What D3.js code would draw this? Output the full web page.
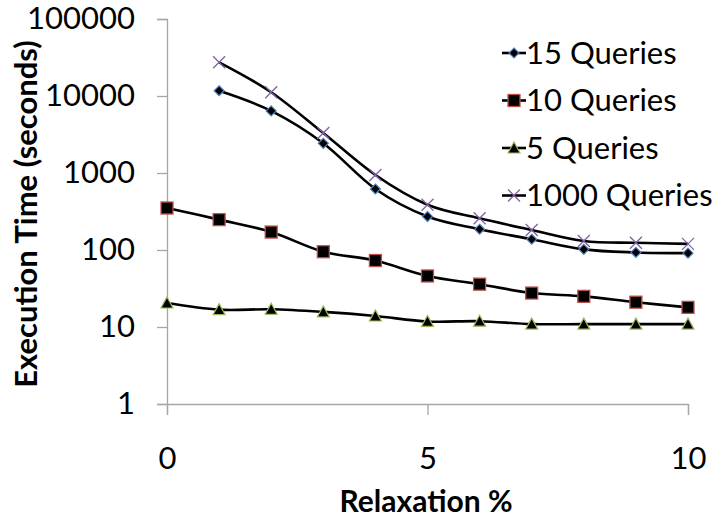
<!DOCTYPE html>
<html>
<head>
<meta charset="utf-8">
<script src="https://cdn.jsdelivr.net/npm/d3@7"></script>
<style>
  body { margin: 0; background: #fff; }
  svg text { font-family: Lato, "Open Sans", sans-serif; fill: #000; }
</style>
</head>
<body>
<div id="chart"></div>
<script>
// relaxation % on x, execution time (log) on y
var relax = [0, 1, 2, 3, 4, 5, 6, 7, 8, 9, 10];
var q15 = [null, 11700, 6400, 2430, 620, 272, 186, 138, 102, 93, 91];
var q10 = [351, 248, 171, 95, 73, 46, 36, 27.6, 25, 21, 18];
var q5 = [20.5, 16.8, 17, 15.7, 13.9, 11.8, 11.9, 10.9, 10.9, 10.9, 10.9];
var q1000 = [null, 27400, 11200, 3300, 942, 387, 258, 182, 131, 124, 120];
var yTicks = [1, 10, 100, 1000, 10000, 100000];
var xTicks = [0, 5, 10];

var series = [
    { name: "15 Queries", values: q15, marker: "diamond", stroke: "#4F81BD" },
    { name: "10 Queries", values: q10, marker: "square", stroke: "#C0504D" },
    { name: "5 Queries", values: q5, marker: "triangle", stroke: "#9BBB59" },
    { name: "1000 Queries", values: q1000, marker: "cross", stroke: "#8064A2" }
];

const width = 712, height = 519;
const plotLeft = 167, plotRight = 688, plotTop = 19, plotBottom = 404;

const svg = d3.select("#chart")
    .append("svg")
    .attr("width", width)
    .attr("height", height);

const xScale = d3.scaleLinear()
    .domain([0, 10])
    .range([plotLeft, plotRight]);

const yScale = d3.scaleLog()
    .domain([1, 100000])
    .range([plotBottom, plotTop]);

// axes
const xAxis = svg.append("g")
    .attr("transform", `translate(0, ${plotBottom})`)
    .call(d3.axisBottom(xScale).tickValues(xTicks).tickSize(11).tickPadding(32).tickFormat(d3.format("d")));

const yAxis = svg.append("g")
    .attr("transform", `translate(${plotLeft}, 0)`)
    .call(d3.axisLeft(yScale).tickValues(yTicks).tickSize(10).tickPadding(22).tickFormat(d3.format("d")));

[xAxis, yAxis].forEach(function (ax) {
    ax.select(".domain").attr("stroke", "#a6a6a6").attr("stroke-width", 1.3);
    ax.selectAll(".tick line").attr("stroke", "#a6a6a6").attr("stroke-width", 1.3);
    ax.selectAll("text").style("font-size", "31px").attr("fill", "#000");
});

// markers
function drawMarker(g, type, stroke) {
    if (type === "diamond") {
        g.append("path").attr("d", "M0,-5L5,0L0,5L-5,0Z")
            .attr("fill", "#000").attr("stroke", stroke).attr("stroke-width", 1.2);
    } else if (type === "square") {
        g.append("rect").attr("x", -6).attr("y", -6).attr("width", 12).attr("height", 12)
            .attr("fill", "#000").attr("stroke", stroke).attr("stroke-width", 1.3);
    } else if (type === "triangle") {
        g.append("path").attr("d", "M0,-6L6,5L-6,5Z")
            .attr("fill", "#000").attr("stroke", stroke).attr("stroke-width", 1.2);
    } else {
        g.append("path").attr("d", "M-6,-6L6,6M-6,6L6,-6")
            .attr("fill", "none").attr("stroke", stroke).attr("stroke-width", 1.3);
    }
}

const line = d3.line()
    .defined(d => d.v != null)
    .x(d => xScale(d.x))
    .y(d => yScale(d.v))
    .curve(d3.curveCatmullRom.alpha(0));

series.forEach(function (s) {
    const pts = relax.map((x, i) => ({ x: x, v: s.values[i] })).filter(d => d.v != null);
    svg.append("path")
        .datum(pts)
        .attr("d", line)
        .attr("fill", "none")
        .attr("stroke", "#000")
        .attr("stroke-width", 2.6);
});

series.forEach(function (s) {
    const pts = relax.map((x, i) => ({ x: x, v: s.values[i] })).filter(d => d.v != null);
    pts.forEach(function (d) {
        const g = svg.append("g").attr("transform", `translate(${xScale(d.x)}, ${yScale(d.v)})`);
        drawMarker(g, s.marker, s.stroke);
    });
});

// legend
const legend = svg.append("g").attr("transform", "translate(502, 53)");
series.forEach(function (s, i) {
    const row = legend.append("g").attr("transform", `translate(0, ${i * 47.5})`);
    row.append("line").attr("x1", 0).attr("x2", 24).attr("y1", 0).attr("y2", 0)
        .attr("stroke", "#000").attr("stroke-width", 2.6);
    const m = row.append("g").attr("transform", "translate(12, 0)");
    drawMarker(m, s.marker, s.stroke);
    row.append("text")
        .text(s.name)
        .attr("x", 24)
        .attr("y", 0)
        .attr("dy", "0.35em")
        .style("font-size", "31px");
});

// axis titles
svg.append("text")
    .text("Relaxation %")
    .attr("x", 426)
    .attr("y", 512)
    .attr("text-anchor", "middle")
    .style("font-size", "30px")
    .style("font-weight", "bold");

svg.append("text")
    .text("Execution Time (seconds)")
    .attr("x", -214)
    .attr("y", 37)
    .attr("transform", "rotate(-90)")
    .attr("text-anchor", "middle")
    .style("font-size", "31px")
    .style("font-weight", "bold");
</script>
</body>
</html>
